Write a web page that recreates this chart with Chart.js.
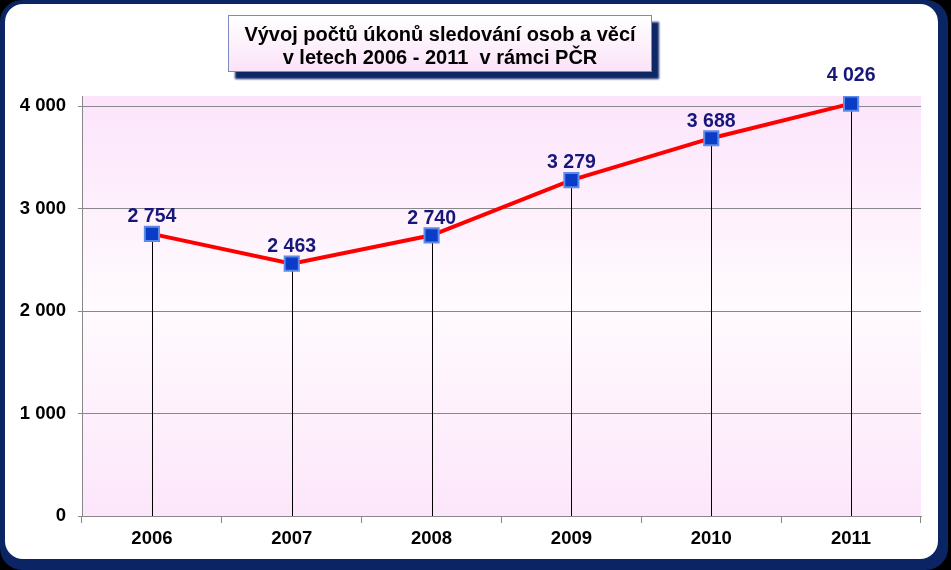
<!DOCTYPE html>
<html>
<head>
<meta charset="utf-8">
<script src="https://cdn.jsdelivr.net/npm/chart.js@4"></script>
<style>
  html, body { margin: 0; padding: 0; background: #000; }
  #frame { position: absolute; left: 0; top: 0; width: 948px; height: 570px; background: #0b2463; border-radius: 22px; }
  #panel { position: absolute; left: 5px; top: 4px; width: 933px; height: 555px; background: #fff; border-radius: 18px; }
  #wrap { position: absolute; left: 0; top: 0; width: 951px; height: 570px; }
  #title {
    position: absolute; left: 228px; top: 15px; width: 424px; height: 57px;
    border: 1px solid #8088c4;
    background: linear-gradient(#ffffff, #fbe3f8);
    box-shadow: 7px 7px 2px #0e2766;
    font: bold 20px Arial, "Liberation Sans", sans-serif; color: #000;
    text-align: center; line-height: 23px; padding-top: 7px; box-sizing: border-box;
  }
</style>
</head>
<body>
<div id="frame"></div>
<div id="panel"></div>
<div id="wrap"><canvas id="chart" width="951" height="570"></canvas></div>
<div id="title">Vývoj počtů úkonů sledování osob a věcí<br>v letech 2006 - 2011&nbsp; v rámci PČR</div>
<script>
var years = ["2006", "2007", "2008", "2009", "2010", "2011"];
var counts = [2754, 2463, 2740, 3279, 3688, 4026];
var y_ticks = [0, 1000, 2000, 3000, 4000];

function spaced(n) {
  return String(n).replace(/\B(?=(\d{3})+(?!\d))/g, " ");
}

// pink plot background
var plotBackground = {
  id: 'plotBackground',
  beforeDraw: function(chart) {
    var a = chart.chartArea, ctx = chart.ctx;
    var g = ctx.createLinearGradient(0, a.top, 0, a.bottom);
    g.addColorStop(0, "#fce4fb");
    g.addColorStop(0.5, "#fffbfe");
    g.addColorStop(1, "#fce6fa");
    ctx.save();
    ctx.fillStyle = g;
    ctx.fillRect(a.left, a.top, a.right - a.left, a.bottom - a.top);
    ctx.restore();
  }
};

// black drop lines from each point to the axis
var dropLines = {
  id: 'dropLines',
  beforeDatasetsDraw: function(chart) {
    var ctx = chart.ctx, a = chart.chartArea;
    ctx.save();
    ctx.strokeStyle = "#000";
    ctx.lineWidth = 1;
    chart.getDatasetMeta(0).data.forEach(function(pt) {
      var x = Math.round(pt.x) + 0.5;
      ctx.beginPath();
      ctx.moveTo(x, pt.y);
      ctx.lineTo(x, a.bottom);
      ctx.stroke();
    });
    ctx.restore();
  }
};

// value labels above points
var valueLabels = {
  id: 'valueLabels',
  afterDatasetsDraw: function(chart) {
    var ctx = chart.ctx;
    ctx.save();
    ctx.fillStyle = "#17177a";
    ctx.font = "bold 19.5px Arial, 'Liberation Sans', sans-serif";
    ctx.textAlign = "center";
    ctx.textBaseline = "middle";
    chart.getDatasetMeta(0).data.forEach(function(pt, i) {
      var lift = (i == counts.length - 1) ? 28 : 17;
      ctx.fillText(spaced(counts[i]), pt.x, pt.y - lift);
    });
    ctx.restore();
  }
};

var ctx = document.getElementById("chart");
var chart = new Chart(ctx, {
  type: 'line',
  data: {
    labels: years,
    datasets: [{
      data: counts,
      borderColor: "#ff0000",
      borderWidth: 4,
      tension: 0,
      pointStyle: 'rect',
      pointRadius: 10,
      pointHoverRadius: 10,
      pointBackgroundColor: "#0a3cc8",
      pointBorderColor: "#5f8ae6",
      pointBorderWidth: 2
    }]
  },
  options: {
    responsive: false,
    animation: false,
    events: [],
    layout: { padding: { left: 0, right: 30, top: 96, bottom: 24 } },
    plugins: { legend: { display: false }, tooltip: { enabled: false } },
    scales: {
      x: {
        offset: true,
        grid: { offset: true, drawOnChartArea: false, color: "#888", tickLength: 7 },
        border: { color: "#888" },
        ticks: { color: "#000", font: { family: "Arial, 'Liberation Sans', sans-serif", size: 18.5, weight: 'bold' }, padding: 5 },
        afterFit: function(axis) { axis.height = 30; }
      },
      y: {
        min: 0,
        max: 4100,
        afterBuildTicks: function(axis) {
          axis.ticks = y_ticks.map(function(v) { return { value: v }; });
        },
        grid: { color: "#888", tickLength: 4 },
        border: { color: "#888" },
        ticks: {
          color: "#000",
          padding: 12,
          font: { family: "Arial, 'Liberation Sans', sans-serif", size: 18.5, weight: 'bold' },
          callback: function(v) { return spaced(v); }
        },
        afterFit: function(axis) { axis.width = 82; }
      }
    }
  },
  plugins: [plotBackground, dropLines, valueLabels]
});
</script>
</body>
</html>
